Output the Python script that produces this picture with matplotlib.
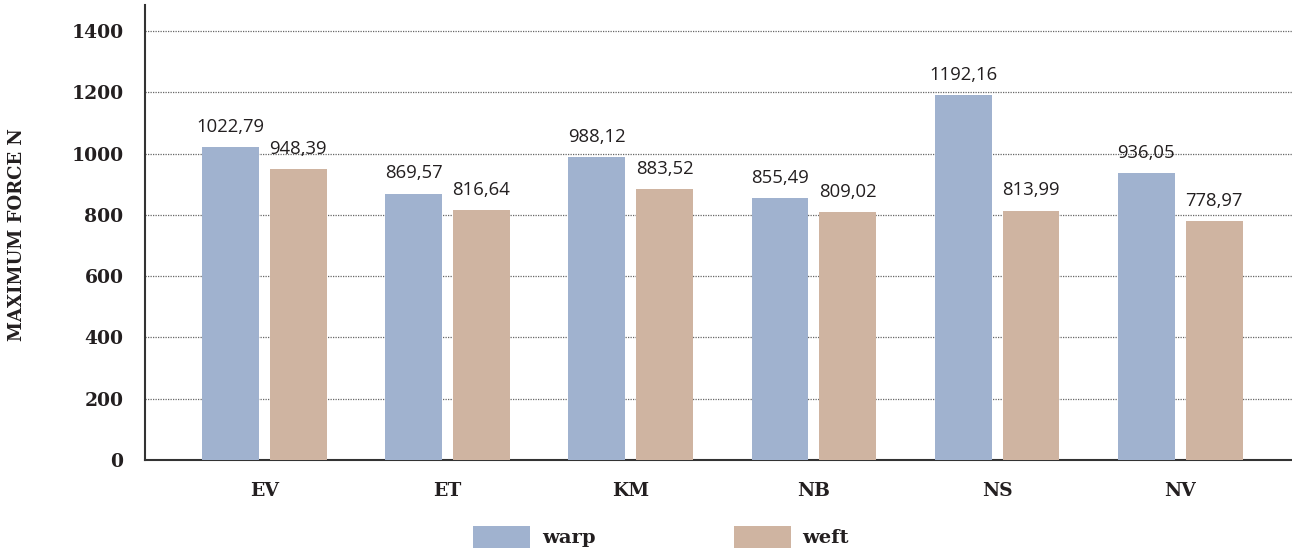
import matplotlib
matplotlib.use("Agg")
import matplotlib.pyplot as plt
from matplotlib.patches import Patch
import numpy as np

categories = ["EV", "ET", "KM", "NB", "NS", "NV"]
warp = [1022.79, 869.57, 988.12, 855.49, 1192.16, 936.05]
weft = [948.39, 816.64, 883.52, 809.02, 813.99, 778.97]
series_names = ["warp", "weft"]
yticks = [0, 200, 400, 600, 800, 1000, 1200, 1400]

warp_color = "#a0b2cf"
weft_color = "#cfb4a1"
text_color = "#231f20"
slab = ["DejaVu Serif"]
sans = ["Open Sans", "DejaVu Sans"]

fig = plt.figure(figsize=(12.92, 5.53), dpi=100)
ax = fig.add_axes([145 / 1292, 93 / 553, 1 - 145 / 1292, (460 - 5) / 553])

x = np.arange(len(categories))
off = 0.185
w = 0.31
ax.bar(x - off, warp, width=w, color=warp_color, zorder=3)
ax.bar(x + off, weft, width=w, color=weft_color, zorder=3)

def fmt(v):
    return f"{v:.2f}".replace(".", ",")

for xi, v in zip(x - off, warp):
    ax.annotate(fmt(v), (xi, v), xytext=(0, 8), textcoords="offset points",
                ha="center", va="bottom", fontsize=13.3, family=sans, color=text_color)
for xi, v in zip(x + off, weft):
    ax.annotate(fmt(v), (xi, v), xytext=(0, 8), textcoords="offset points",
                ha="center", va="bottom", fontsize=13.3, family=sans, color=text_color)

ax.set_xlim(-0.652, 5.61)
ax.set_ylim(0, 1485)
ax.set_yticks(yticks)
ax.set_yticklabels([str(t) for t in yticks], fontsize=13.5, fontweight="bold",
                   family=slab, color=text_color)
ax.set_xticks(x)
ax.set_xticklabels(categories, fontsize=13.5, fontweight="bold", family=slab, color=text_color)
ax.tick_params(axis="y", length=0, pad=15.5)
ax.tick_params(axis="x", length=0, pad=16)

ax.grid(axis="y", linestyle=(0, (1, 1)), color="#666666", linewidth=0.9, zorder=0)
for s in ["top", "right"]:
    ax.spines[s].set_visible(False)
ax.spines["left"].set_color("#333333")
ax.spines["left"].set_linewidth(1.5)
ax.spines["bottom"].set_color("#333333")
ax.spines["bottom"].set_linewidth(1.5)

fig.text(17 / 1292, 1 - 235 / 553, "MAXIMUM FORCE N", rotation=90, ha="center", va="center",
         fontsize=13, fontweight="bold", family=slab, color=text_color)

handles = [Patch(facecolor=warp_color, label=series_names[0]),
           Patch(facecolor=weft_color, label=series_names[1])]
leg = fig.legend(handles=handles, loc="center", bbox_to_anchor=(661 / 1292, 1 - 537 / 553),
                 ncol=2, frameon=False, handlelength=2.93, handleheight=1.34,
                 columnspacing=7.1, handletextpad=0.6,
                 prop={"family": slab, "weight": "bold", "size": 14})
for t in leg.get_texts():
    t.set_color(text_color)

fig.savefig("out.png", dpi=100)
